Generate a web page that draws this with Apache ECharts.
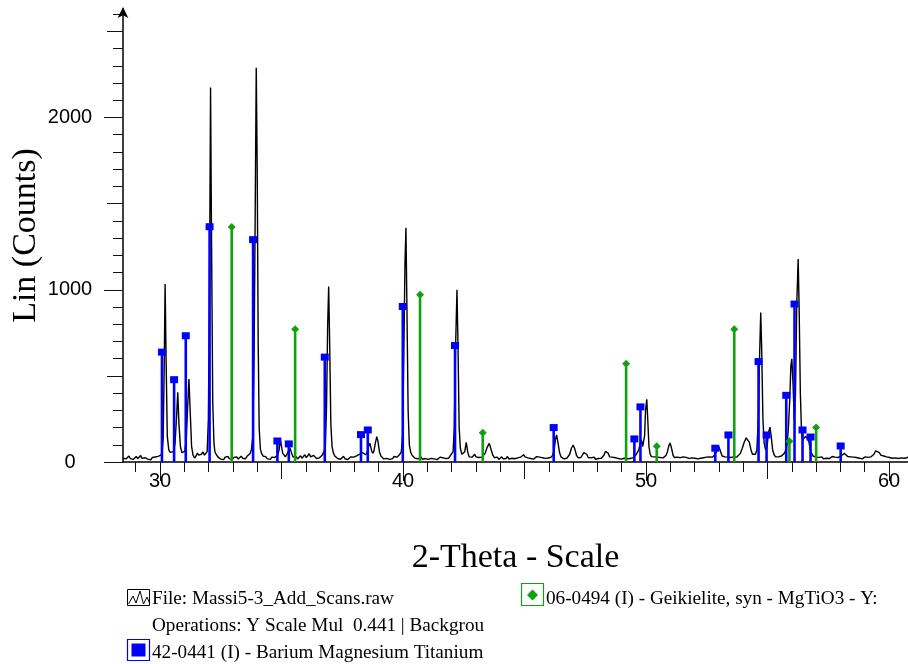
<!DOCTYPE html>
<html>
<head>
<meta charset="utf-8">
<script src="https://cdn.jsdelivr.net/npm/echarts@6/dist/echarts.min.js"></script>
<style>
html,body{margin:0;padding:0;background:#fff;}
#chart{width:908px;height:664px;}
</style>
</head>
<body>
<div id="chart"></div>
<script>
// ---- Data ----
// Measured pattern: [2-Theta, Lin (Counts)]
const scanTrace = [
[28.48,22],[28.54,30],[28.60,18],[28.66,26],[28.72,35],[28.78,20],[28.84,28],[28.90,15],[28.96,24],[29.02,32],
[29.08,19],[29.14,27],[29.20,38],[29.26,21],[29.32,14],[29.38,25],[29.44,30],[29.50,17],[29.56,23],[29.62,12],
[29.68,26],[29.74,20],[29.80,29],[29.86,24],[29.92,33],[29.98,30],[30.04,40],[30.09,60],
[30.13,140],[30.17,520],[30.21,1034],[30.25,600],[30.30,150],[30.36,70],[30.42,56],[30.48,48],[30.55,60],
[30.62,110],[30.68,260],[30.73,405],[30.78,220],[30.84,90],[30.90,55],[30.96,50],[31.02,62],[31.08,130],
[31.14,330],[31.19,481],[31.24,300],[31.30,90],[31.36,40],[31.42,23],[31.48,35],[31.54,52],[31.59,40],
[31.64,30],[31.70,45],[31.77,58],[31.83,40],[31.89,31],[31.94,60],[31.99,250],[32.04,1100],[32.08,2174],
[32.12,1300],[32.17,350],[32.22,110],[32.26,58],[32.32,42],[32.38,30],[32.44,22],[32.50,17],[32.56,25],
[32.62,14],[32.68,28],[32.74,20],[32.80,32],[32.86,18],[32.92,24],[32.98,15],[33.04,27],[33.10,21],[33.16,30],
[33.22,17],[33.28,25],[33.34,34],[33.40,22],[33.46,28],[33.52,19],[33.58,33],[33.64,40],[33.70,48],[33.76,70],
[33.82,150],[33.87,600],[33.92,1500],[33.96,2289],[34.00,1700],[34.04,700],[34.08,200],[34.13,75],[34.18,50],
[34.24,35],[34.30,26],[34.36,30],[34.42,18],[34.48,24],[34.54,15],[34.60,28],[34.66,20],[34.72,26],[34.78,32],
[34.84,40],[34.90,70],[34.95,128],[35.00,90],[35.05,50],[35.10,41],[35.16,30],[35.22,45],[35.28,62],[35.35,80],
[35.42,50],[35.48,28],[35.54,20],[35.60,32],[35.66,18],[35.72,26],[35.78,36],[35.84,22],[35.90,30],[35.96,42],
[36.02,25],[36.08,35],[36.14,48],[36.20,30],[36.26,22],[36.32,38],[36.38,28],[36.44,20],[36.50,31],[36.56,24],
[36.62,33],[36.68,40],[36.74,45],[36.80,80],[36.85,300],[36.90,800],[36.94,1019],[36.98,700],[37.03,220],
[37.08,90],[37.13,55],[37.19,35],[37.25,28],[37.31,20],[37.37,30],[37.43,16],[37.49,25],[37.55,33],[37.61,19],
[37.67,27],[37.73,14],[37.79,24],[37.85,30],[37.91,20],[37.97,28],[38.03,22],[38.09,35],[38.15,30],[38.21,45],
[38.27,38],[38.33,55],[38.40,60],[38.46,42],[38.52,55],[38.58,90],[38.64,108],[38.70,70],[38.75,50],[38.80,62],
[38.86,110],[38.92,147],[38.97,120],[39.03,60],[39.09,35],[39.15,25],[39.21,18],[39.27,28],[39.33,21],[39.39,30],
[39.45,15],[39.51,26],[39.57,20],[39.63,32],[39.69,24],[39.75,28],[39.81,35],[39.87,45],[39.93,60],[39.98,150],
[40.03,600],[40.08,1150],[40.12,1360],[40.16,900],[40.21,300],[40.26,100],[40.32,55],[40.38,38],[40.44,30],
[40.50,22],[40.56,28],[40.62,18],[40.68,25],[40.74,30],[40.80,16],[40.86,24],[40.92,20],[40.98,29],[41.04,15],
[41.10,25],[41.16,21],[41.22,30],[41.28,18],[41.34,26],[41.40,14],[41.46,22],[41.52,28],[41.58,19],[41.64,25],
[41.70,32],[41.76,20],[41.82,27],[41.88,22],[41.94,35],[42.00,40],[42.06,60],[42.11,200],[42.16,650],[42.22,1000],
[42.26,700],[42.31,200],[42.36,80],[42.42,45],[42.48,38],[42.54,60],[42.60,114],[42.66,60],[42.72,30],[42.78,22],
[42.84,28],[42.90,38],[42.95,45],[43.00,30],[43.06,22],[43.12,26],[43.18,20],[43.24,28],[43.30,35],[43.38,50],
[43.46,85],[43.55,108],[43.63,70],[43.70,38],[43.76,25],[43.82,20],[43.88,28],[43.94,15],[44.00,24],[44.06,30],
[44.12,18],[44.18,26],[44.24,20],[44.30,32],[44.36,17],[44.42,25],[44.48,22],[44.54,30],[44.60,19],[44.66,27],
[44.72,24],[44.78,33],[44.84,28],[44.90,38],[44.96,42],[45.02,30],[45.08,36],[45.14,24],[45.20,30],[45.26,20],
[45.32,28],[45.38,17],[45.44,26],[45.50,31],[45.56,22],[45.62,28],[45.68,18],[45.74,25],[45.80,30],[45.86,21],
[45.92,27],[45.98,23],[46.04,30],[46.10,28],[46.16,40],[46.22,70],[46.27,130],[46.32,157],[46.38,110],[46.44,55],
[46.50,30],[46.56,24],[46.62,18],[46.68,26],[46.74,22],[46.80,30],[46.86,45],[46.93,80],[47.00,99],[47.07,75],
[47.14,38],[47.20,25],[47.26,30],[47.32,26],[47.38,35],[47.44,55],[47.50,66],[47.56,45],[47.62,26],[47.68,18],
[47.74,24],[47.80,20],[47.86,28],[47.92,16],[47.98,24],[48.04,20],[48.10,27],[48.16,22],[48.22,30],[48.28,42],
[48.33,62],[48.38,70],[48.44,52],[48.50,30],[48.56,22],[48.62,28],[48.68,18],[48.74,25],[48.80,30],[48.86,20],
[48.92,26],[48.98,17],[49.04,28],[49.10,22],[49.16,30],[49.22,19],[49.28,26],[49.34,20],[49.40,28],[49.46,24],
[49.52,32],[49.58,40],[49.64,50],[49.70,70],[49.76,110],[49.81,128],[49.86,90],[49.90,80],[49.94,150],[49.98,300],
[50.03,364],[50.07,250],[50.12,90],[50.17,45],[50.22,31],[50.28,25],[50.34,30],[50.40,22],[50.46,28],[50.52,20],
[50.58,26],[50.64,32],[50.70,24],[50.76,30],[50.82,38],[50.88,60],[50.94,95],[50.99,110],[51.05,80],[51.11,40],
[51.17,26],[51.23,20],[51.29,28],[51.35,18],[51.41,25],[51.47,22],[51.53,30],[51.59,20],[51.65,27],[51.71,33],
[51.77,21],[51.83,28],[51.89,24],[51.95,30],[52.01,22],[52.07,26],[52.13,18],[52.19,28],[52.25,22],[52.31,30],
[52.37,25],[52.43,20],[52.49,28],[52.55,24],[52.61,30],[52.67,22],[52.73,28],[52.79,35],[52.85,45],[52.92,70],
[53.00,89],[53.07,60],[53.13,35],[53.19,25],[53.25,30],[53.31,22],[53.37,28],[53.43,20],[53.49,26],[53.55,24],
[53.61,30],[53.67,22],[53.73,28],[53.80,35],[53.88,50],[53.96,80],[54.04,115],[54.12,140],[54.18,143],[54.25,115],
[54.32,70],[54.38,45],[54.44,38],[54.50,45],[54.56,70],[54.62,250],[54.67,600],[54.72,868],[54.76,650],[54.81,250],
[54.86,110],[54.92,70],[54.98,90],[55.04,170],[55.10,202],[55.15,150],[55.21,70],[55.27,42],[55.33,30],[55.39,24],
[55.45,30],[55.51,26],[55.57,35],[55.63,40],[55.69,50],[55.75,70],[55.81,110],[55.86,200],[55.92,380],[55.96,560],
[56.00,599],[56.05,450],[56.10,244],[56.15,400],[56.20,900],[56.26,1178],[56.30,900],[56.35,400],[56.40,170],
[56.44,128],[56.50,135],[56.57,150],[56.64,157],[56.70,120],[56.76,70],[56.81,52],[56.87,35],[56.93,25],[57.00,28],
[57.06,20],[57.12,27],[57.18,24],[57.24,30],[57.30,18],[57.36,26],[57.42,22],[57.48,28],[57.54,20],[57.60,25],
[57.66,32],[57.72,22],[57.78,28],[57.84,20],[57.90,26],[57.96,30],[58.02,35],[58.08,42],[58.16,50],[58.24,40],
[58.30,32],[58.36,25],[58.42,30],[58.48,22],[58.54,28],[58.60,20],[58.66,26],[58.72,30],[58.78,22],[58.84,28],
[58.90,18],[58.96,25],[59.02,30],[59.08,21],[59.14,27],[59.20,24],[59.26,30],[59.32,35],[59.38,45],[59.45,65],
[59.53,75],[59.60,55],[59.66,40],[59.72,45],[59.78,35],[59.84,38],[59.90,30],[59.96,34],[60.02,26],[60.08,30],
[60.14,22],[60.20,28],[60.26,24],[60.32,30],[60.38,20],[60.44,27],[60.50,24],[60.56,30],[60.62,22],[60.68,28],
[60.74,25],[60.78,30]
];

// 42-0441 (I) - Barium Magnesium Titanium : stick positions and heights
const bariumTheta = [30.08, 30.58, 31.06, 32.04, 33.83, 34.83, 35.30, 36.78, 38.27, 38.55, 39.99, 42.14,
                     46.20, 49.52, 49.77, 52.85, 53.39, 54.63, 54.96, 55.77, 56.11, 56.44, 56.77, 58.01];
const bariumCounts = [638, 478, 733, 1366, 1291, 122, 105, 609, 159, 186, 903, 676,
                      200, 134, 320, 80, 157, 583, 157, 387, 917, 186, 145, 93];

// 06-0494 (I) - Geikielite, syn - MgTiO3 : stick positions and heights
const geikTheta = [32.95, 35.56, 40.70, 43.28, 49.18, 50.44, 53.63, 55.90, 57.00];
const geikCounts = [1365, 771, 971, 170, 570, 91, 771, 121, 200];

// Tick values
const xMinorTicks = [29,30,31,32,33,34,35,36,37,38,39,40,41,42,43,44,45,46,47,48,49,50,51,52,53,54,55,56,57,58,59,60];
const xMidTicks = [35, 45, 55];
const xMajorTicks = [30, 40, 50, 60];
const xTickLabels = [30, 40, 50, 60];
const yMinorTicks = [0,100,200,300,400,500,600,700,800,900,1000,1100,1200,1300,1400,1500,1600,1700,1800,1900,
                     2000,2100,2200,2300,2400,2500,2600];
const yMidTicks = [500, 1500, 2500];
const yMajorTicks = [0, 1000, 2000];
const yTickLabels = [0, 1000, 2000];

// ---- Chart ----
const XMIN = 28.477, XMAX = 60.78, YMIN = 0, YMAX = 2630;
const serif = '"Liberation Serif", "Times New Roman", serif';
const sans = '"Liberation Sans", Arial, sans-serif';
const BLUE = '#0000FF', GREEN = '#10A010';
const plain = v => String(v);

function xAxisDef(ticks, len, withLine, withLabel) {
  return {
    type: 'value', min: XMIN, max: XMAX, position: 'bottom', gridIndex: 0,
    axisLine: { show: withLine, onZero: false, lineStyle: { color: '#000', width: 1.5 } },
    axisTick: { show: true, customValues: ticks, length: len, lineStyle: { color: '#111', width: 1 } },
    axisLabel: withLabel ? { show: true, customValues: xTickLabels, margin: 9, color: '#000',
                             fontFamily: sans, fontSize: 20, formatter: plain } : { show: false },
    splitLine: { show: false },
    name: withLine ? '2-Theta - Scale' : '',
    nameLocation: 'middle', nameGap: 79, nameMoveOverlap: false,
    nameTextStyle: { fontFamily: serif, fontSize: 34, color: '#000' }
  };
}
function yAxisDef(ticks, len, withLine, withLabel) {
  return {
    type: 'value', min: YMIN, max: YMAX, position: 'left', gridIndex: 0,
    axisLine: { show: withLine, onZero: false, symbol: ['none', 'arrow'], symbolSize: [8, 11], symbolOffset: [0, 2],
                lineStyle: { color: '#000', width: 1.5 } },
    axisTick: { show: true, customValues: ticks, length: len, lineStyle: { color: '#111', width: 1 } },
    axisLabel: withLabel ? { show: true, customValues: yTickLabels, margin: 53, align: 'center', color: '#000',
                             fontFamily: sans, fontSize: 20, formatter: plain } : { show: false },
    splitLine: { show: false },
    name: withLine ? 'Lin (Counts)' : '',
    nameLocation: 'middle', nameGap: 80, nameRotate: 90, nameMoveOverlap: false,
    nameTextStyle: { fontFamily: serif, fontSize: 34, color: '#000' }
  };
}

function stickRenderer(color, shape) {
  return function (params, api) {
    const x = api.value(0), y = api.value(1);
    const top = api.coord([x, y]);
    const base = api.coord([x, 0]);
    const marker = shape === 'square'
      ? { type: 'rect', shape: { x: top[0] - 4, y: top[1] - 3.5, width: 8, height: 7 }, style: { fill: color } }
      : { type: 'polygon', shape: { points: [[top[0], top[1] - 4], [top[0] + 4, top[1]], [top[0], top[1] + 4], [top[0] - 4, top[1]]] },
          style: { fill: color } };
    return {
      type: 'group',
      children: [
        { type: 'line', shape: { x1: top[0], y1: top[1] + 3, x2: base[0], y2: base[1] }, style: { stroke: color, lineWidth: 2.6 } },
        marker
      ]
    };
  };
}

const chart = echarts.init(document.getElementById('chart'), null, { renderer: 'canvas' });
chart.setOption({
  animation: false,
  backgroundColor: '#ffffff',
  grid: { left: 123, right: 0, top: 9, bottom: 202, containLabel: false, outerBoundsMode: 'none' },
  xAxis: [
    xAxisDef(xMinorTicks, 10, true, true),
    xAxisDef(xMidTicks, 17, false, false),
    xAxisDef(xMajorTicks, 19, false, false)
  ],
  yAxis: [
    yAxisDef(yMinorTicks, 10, true, true),
    yAxisDef(yMidTicks, 16, false, false),
    yAxisDef(yMajorTicks, 19, false, false)
  ],
  series: [
    {
      type: 'line', name: 'File: Massi5-3_Add_Scans.raw', xAxisIndex: 0, yAxisIndex: 0,
      data: scanTrace, showSymbol: false, symbol: 'none', smooth: false,
      lineStyle: { color: '#000', width: 1.4 }, z: 2, clip: true
    },
    {
      type: 'custom', name: '42-0441 (I) - Barium Magnesium Titanium', xAxisIndex: 0, yAxisIndex: 0,
      data: bariumTheta.map((t, i) => [t, bariumCounts[i]]),
      encode: { x: 0, y: 1 }, renderItem: stickRenderer(BLUE, 'square'), z: 3
    },
    {
      type: 'custom', name: '06-0494 (I) - Geikielite, syn - MgTiO3 - Y:', xAxisIndex: 0, yAxisIndex: 0,
      data: geikTheta.map((t, i) => [t, geikCounts[i]]),
      encode: { x: 0, y: 1 }, renderItem: stickRenderer(GREEN, 'diamond'), z: 3
    }
  ],
  graphic: [
    // legend item 1: scan
    { type: 'rect', shape: { x: 127.5, y: 589.5, width: 22, height: 16 }, style: { fill: '#fff', stroke: '#000', lineWidth: 1 } },
    { type: 'polyline', shape: { points: [[128.5, 604], [133, 596], [136, 603], [140, 591], [143.5, 604], [147, 597], [149.5, 603]] },
      style: { stroke: '#000', fill: null, lineWidth: 1 } },
    { type: 'text', x: 152, y: 589, style: { text: 'File: Massi5-3_Add_Scans.raw', font: '19.2px ' + serif, fill: '#000' } },
    { type: 'text', x: 152, y: 616, style: { text: 'Operations: Y Scale Mul  0.441 | Backgrou', font: '19.2px ' + serif, fill: '#000' } },
    // legend item 2: barium
    { type: 'rect', shape: { x: 127.5, y: 639.5, width: 22, height: 21 }, style: { fill: '#fff', stroke: BLUE, lineWidth: 1.2 } },
    { type: 'rect', shape: { x: 131.5, y: 643.5, width: 14, height: 13 }, style: { fill: BLUE } },
    { type: 'text', x: 152, y: 643, style: { text: '42-0441 (I) - Barium Magnesium Titanium', font: '19.2px ' + serif, fill: '#000' } },
    // legend item 3: geikielite
    { type: 'rect', shape: { x: 521.5, y: 583.5, width: 22, height: 22 }, style: { fill: '#fff', stroke: GREEN, lineWidth: 1.2 } },
    { type: 'polygon', shape: { points: [[532.5, 589.5], [538, 595], [532.5, 600.5], [527, 595]] }, style: { fill: GREEN } },
    { type: 'text', x: 546, y: 589, style: { text: '06-0494 (I) - Geikielite, syn - MgTiO3 - Y:', font: '19.2px ' + serif, fill: '#000' } }
  ]
});
</script>
</body>
</html>
